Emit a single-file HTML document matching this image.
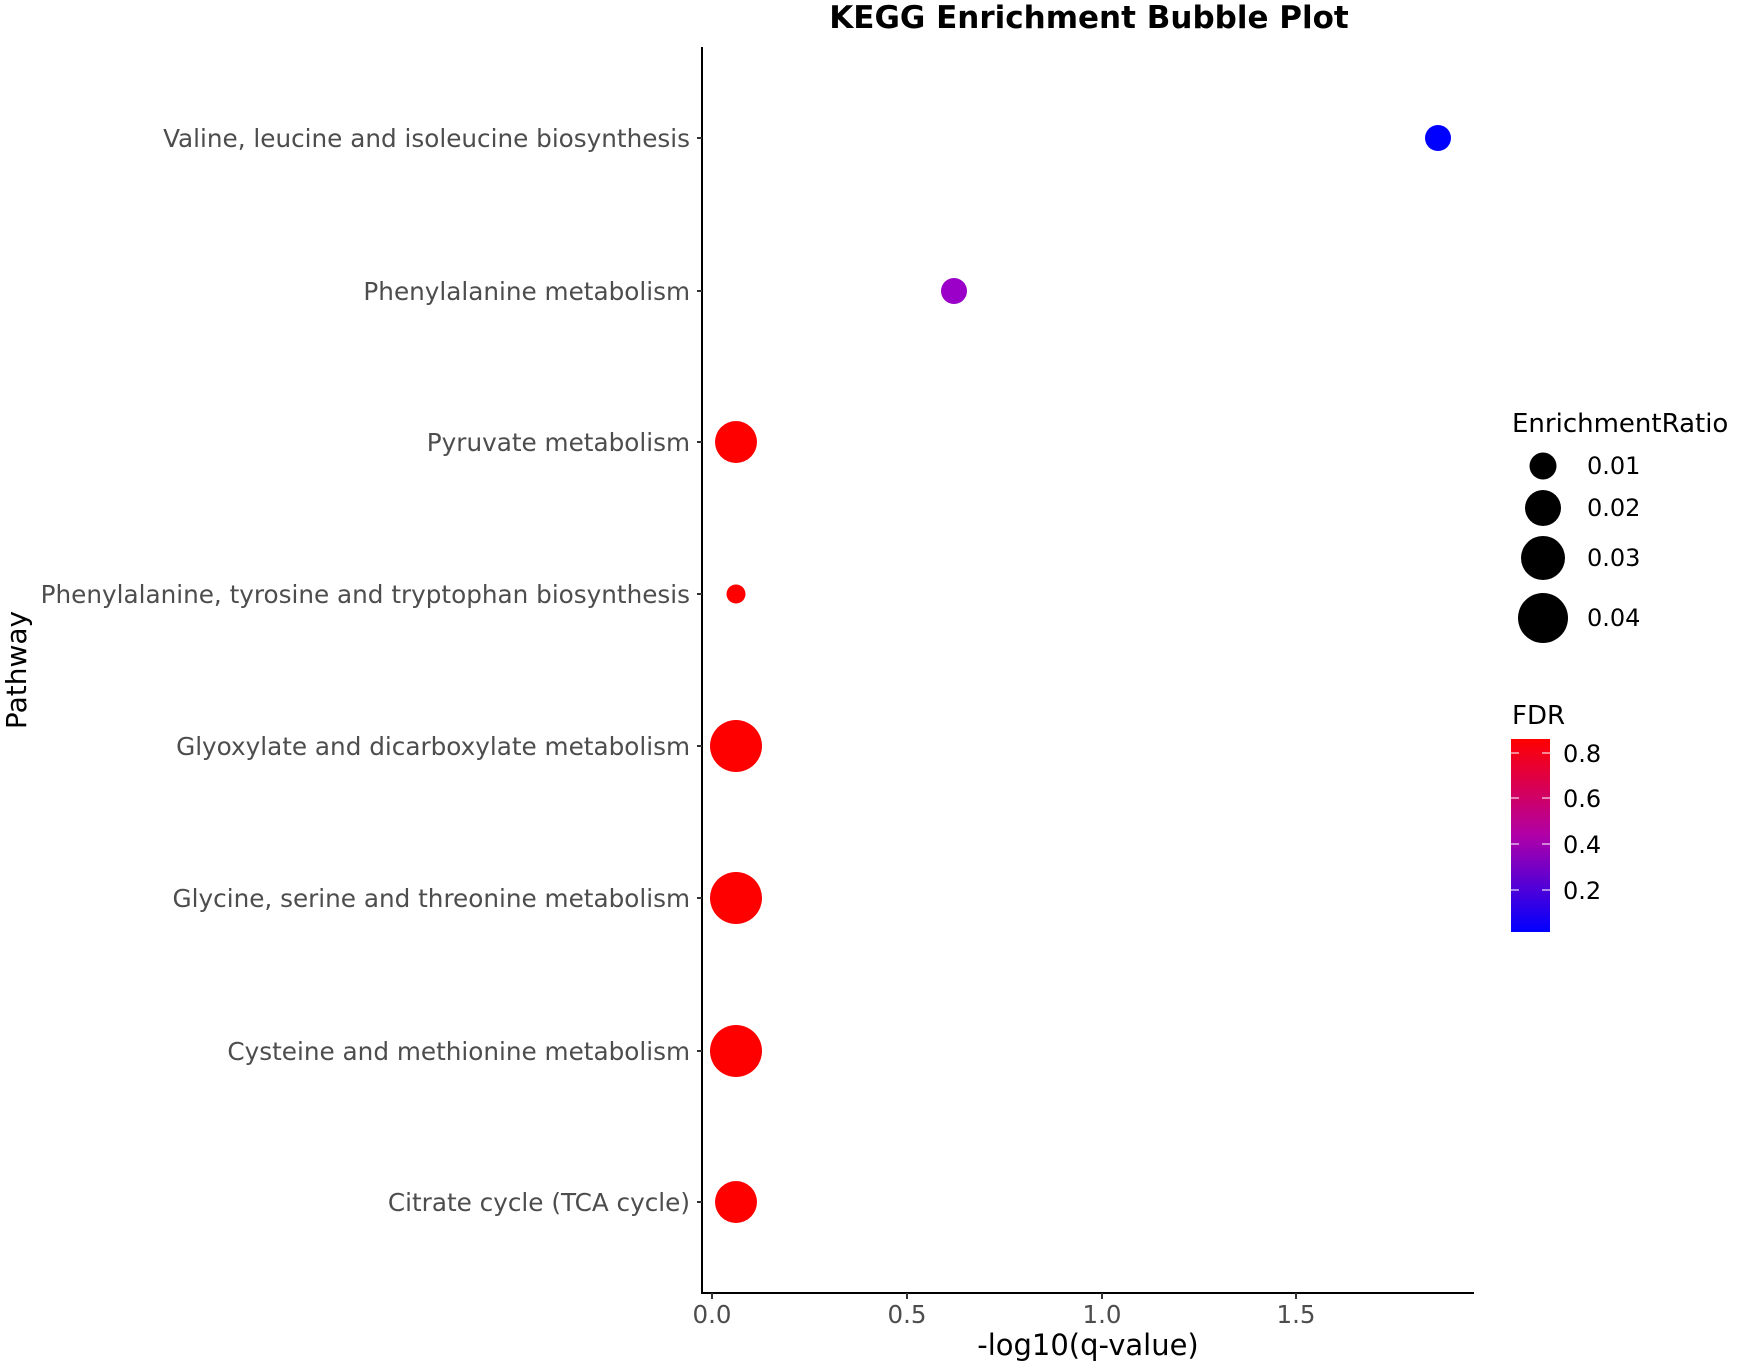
<!DOCTYPE html>
<html><head><meta charset="utf-8"><style>body{margin:0;background:#fff}svg{display:block}</style></head><body>
<svg width="1760" height="1367" xmlns="http://www.w3.org/2000/svg" font-family="DejaVu Sans, Liberation Sans, sans-serif">
<defs><linearGradient id="g" x1="0" y1="1" x2="0" y2="0"><stop offset="0" stop-color="#0000ff"/><stop offset="0.5" stop-color="#b000a8"/><stop offset="1" stop-color="#ff0000"/></linearGradient></defs>
<text x="1089" y="28" text-anchor="middle" font-size="31" font-weight="bold">KEGG Enrichment Bubble Plot</text>
<line x1="702" y1="47" x2="702" y2="1294" stroke="#000" stroke-width="2"/>
<line x1="701" y1="1293" x2="1474" y2="1293" stroke="#000" stroke-width="2"/>
<g stroke="#333" stroke-width="2">
<line x1="697" y1="138" x2="702" y2="138"/><line x1="697" y1="291" x2="702" y2="291"/><line x1="697" y1="442" x2="702" y2="442"/><line x1="697" y1="594" x2="702" y2="594"/><line x1="697" y1="746" x2="702" y2="746"/><line x1="697" y1="898" x2="702" y2="898"/><line x1="697" y1="1051" x2="702" y2="1051"/><line x1="697" y1="1202" x2="702" y2="1202"/>
<line x1="712" y1="1293" x2="712" y2="1299"/><line x1="907" y1="1293" x2="907" y2="1299"/><line x1="1102" y1="1293" x2="1102" y2="1299"/><line x1="1296" y1="1293" x2="1296" y2="1299"/>
</g>
<g font-size="24.7" fill="#4d4d4d" text-anchor="end">
<text x="690" y="147">Valine, leucine and isoleucine biosynthesis</text>
<text x="690" y="300">Phenylalanine metabolism</text>
<text x="690" y="451">Pyruvate metabolism</text>
<text x="690" y="603">Phenylalanine, tyrosine and tryptophan biosynthesis</text>
<text x="690" y="755">Glyoxylate and dicarboxylate metabolism</text>
<text x="690" y="907">Glycine, serine and threonine metabolism</text>
<text x="690" y="1060">Cysteine and methionine metabolism</text>
<text x="690" y="1211">Citrate cycle (TCA cycle)</text>
</g>
<g font-size="24.5" fill="#4d4d4d" text-anchor="middle">
<text x="712" y="1323">0.0</text><text x="907" y="1323">0.5</text><text x="1102" y="1323">1.0</text><text x="1296" y="1323">1.5</text>
</g>
<text x="1088" y="1355" text-anchor="middle" font-size="29">-log10(q-value)</text>
<text transform="translate(26,670) rotate(-90)" text-anchor="middle" font-size="28">Pathway</text>
<circle cx="1438" cy="138" r="13" fill="#0000ff"/>
<circle cx="954" cy="291" r="13" fill="#9a00c8"/>
<circle cx="736" cy="442" r="21" fill="#ff0000"/>
<circle cx="736" cy="594" r="9.5" fill="#ff0000"/>
<circle cx="736" cy="746" r="26" fill="#ff0000"/>
<circle cx="736" cy="898" r="26" fill="#ff0000"/>
<circle cx="736" cy="1051" r="26" fill="#ff0000"/>
<circle cx="736" cy="1202" r="21" fill="#ff0000"/>
<text x="1512" y="432" font-size="26">EnrichmentRatio</text>
<circle cx="1543" cy="466" r="13.5"/><circle cx="1543" cy="508" r="18"/><circle cx="1543" cy="558" r="22"/><circle cx="1543" cy="618" r="25"/>
<g font-size="24"><text x="1587" y="474">0.01</text><text x="1587" y="516">0.02</text><text x="1587" y="566">0.03</text><text x="1587" y="626">0.04</text></g>
<text x="1512" y="724" font-size="26">FDR</text>
<rect x="1511" y="739" width="39" height="193" fill="url(#g)"/>
<g stroke="#fff" stroke-opacity="0.7" stroke-width="1.5">
<line x1="1511" y1="753" x2="1519" y2="753"/><line x1="1542" y1="753" x2="1550" y2="753"/>
<line x1="1511" y1="798" x2="1519" y2="798"/><line x1="1542" y1="798" x2="1550" y2="798"/>
<line x1="1511" y1="844" x2="1519" y2="844"/><line x1="1542" y1="844" x2="1550" y2="844"/>
<line x1="1511" y1="890" x2="1519" y2="890"/><line x1="1542" y1="890" x2="1550" y2="890"/>
</g>
<g font-size="24"><text x="1563" y="762">0.8</text><text x="1563" y="807">0.6</text><text x="1563" y="853">0.4</text><text x="1563" y="899">0.2</text></g>
</svg>
</body></html>
